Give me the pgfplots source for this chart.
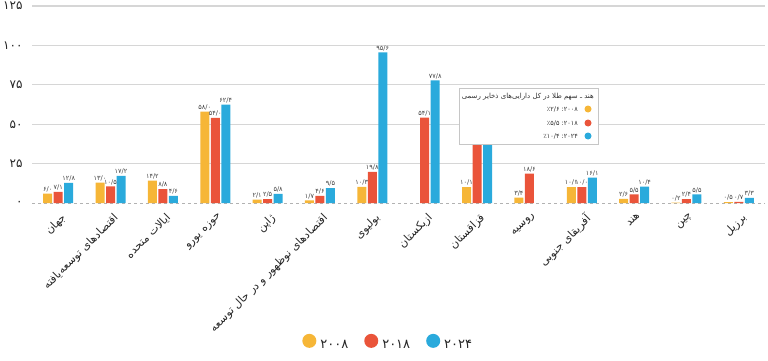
\documentclass[border=0pt]{standalone}
\usepackage{pgfplots}
\pgfplotsset{compat=1.18}
\usepackage{pgfplotstable}
\usepackage{fontspec}
\setmainfont{DejaVu Sans}
\newfontfamily\arabicfont[Script=Arabic]{DejaVu Sans}
\newfontfamily\numfont{DejaVu Sans}
\TeXXeTstate=1
\definecolor{cY}{HTML}{F6B637}
\definecolor{cR}{HTML}{EA543A}
\definecolor{cB}{HTML}{2AAADC}
\definecolor{gridc}{HTML}{D6D6D6}

\pgfplotstableread{
x y lab
0 6.0 ۶/۰
1 13.0 ۱۳/۰
2 14.2 ۱۴/۲
3 58.0 ۵۸/۰
4 2.1 ۲/۱
5 1.7 ۱/۷
6 10.3 ۱۰/۳
8 10.1 ۱۰/۱
9 3.4 ۳/۴
10 10.1 ۱۰/۱
11 2.6 ۲/۶
12 0.2 ۰/۲
13 0.5 ۰/۵
}\tA
\pgfplotstableread{
x y lab
0 7.1 ۷/۱
1 10.5 ۱۰/۵
2 8.8 ۸/۸
3 54.0 ۵۴/۰
4 2.5 ۲/۵
5 4.6 ۴/۶
6 19.8 ۱۹/۸
7 54.1 ۵۴/۱
8 55.3 ۵۵/۳
9 18.6 ۱۸/۶
10 10.0 ۱۰/۰
11 5.5 ۵/۵
12 2.4 ۲/۴
13 0.7 ۰/۷
}\tB
\pgfplotstableread{
x y lab
0 12.8 ۱۲/۸
1 17.2 ۱۷/۲
2 4.6 ۴/۶
3 62.4 ۶۲/۴
4 5.8 ۵/۸
5 9.5 ۹/۵
6 95.6 ۹۵/۶
7 77.8 ۷۷/۸
8 57.9 ۵۷/۹
10 16.1 ۱۶/۱
11 10.4 ۱۰/۴
12 5.5 ۵/۵
13 3.3 ۳/۳
}\tC

\begin{document}
\begin{tikzpicture}
\useasboundingbox (0,0) rectangle (768pt,360pt);
\begin{axis}[
  at={(32pt,157pt)}, anchor=south west,
  scale only axis, width=733pt, height=197pt,
  xmin=-0.5, xmax=13.5, ymin=0, ymax=125,
  axis line style={draw=none},
  ybar=1.5pt, bar width=9pt,
  xtick={0,...,13}, major tick length=0pt,
  xticklabels={
    {\beginR جهان\endR},
    {\beginR اقتصادهای توسعه‌یافته\endR},
    {\beginR ایالات متحده\endR},
    {\beginR حوزه یورو\endR},
    {\beginR ژاپن\endR},
    {\beginR اقتصادهای نوظهور و در حال توسعه\endR},
    {\beginR بولیوی\endR},
    {\beginR ازبکستان\endR},
    {\beginR قزاقستان\endR},
    {\beginR روسیه\endR},
    {\beginR آفریقای جنوبی\endR},
    {\beginR هند\endR},
    {\beginR چین\endR},
    {\beginR برزیل\endR}},
  xticklabel style={rotate=45, anchor=north east, font=\arabicfont\fontsize{11}{13}\selectfont, text=black!85, inner sep=1pt, yshift=-7pt, xshift=-4pt},
  ytick={25,50,75,100,125},
  yticklabels={۲۵,۵۰,۷۵,۱۰۰,۱۲۵},
  extra y ticks={0}, extra y tick labels={۰},
  extra y tick style={grid style={dashed, draw=gray!60, line width=0.8pt}},
  yticklabel style={font=\numfont\fontsize{12}{14}\selectfont, text=black!85, xshift=-6pt},
  ymajorgrids, grid style={draw=gridc, line width=1.1pt},
  point meta=explicit symbolic,
  nodes near coords={\pgfplotspointmeta},
  every node near coord/.append style={font=\numfont\fontsize{6.5}{7}\selectfont, text=black!75, inner sep=1.5pt},
  legend image code/.code={\fill[#1] (0pt,4.5pt) circle (7pt);},
  legend style={draw=none, legend columns=-1, at={(0.486,-0.711)}, anchor=center,
    font=\numfont\fontsize{13}{15}\selectfont, text=black!85,
    /tikz/every odd column/.append style={column sep=2pt},
    /tikz/every even column/.append style={column sep=14pt}},
]
\addplot[fill=cY, draw=none] table[x=x, y=y, meta=lab] {\tA};
\addplot[fill=cR, draw=none] table[x=x, y=y, meta=lab] {\tB};
\addplot[fill=cB, draw=none] table[x=x, y=y, meta=lab] {\tC};
\legend{۲۰۰۸,۲۰۱۸,۲۰۲۴}
\end{axis}
\draw[fill=white, draw=gray!45, line width=0.8pt] (459pt,216pt) rectangle (598pt,272pt);
\node[anchor=east, font=\arabicfont\fontsize{7}{8}\selectfont, text=black!80, inner sep=0pt] at (594pt,263pt) {\beginR هند ـ سهم طلا در کل دارایی‌های ذخایر رسمی\endR};
\fill[cY] (588pt,251pt) circle (3.5pt);
\fill[cR] (588pt,237pt) circle (3.5pt);
\fill[cB] (588pt,224pt) circle (3.5pt);
\node[anchor=east, font=\numfont\fontsize{6.5}{8}\selectfont, text=black!80, inner sep=0pt] at (578pt,251pt) {٪۲/۶ :۲۰۰۸};
\node[anchor=east, font=\numfont\fontsize{6.5}{8}\selectfont, text=black!80, inner sep=0pt] at (578pt,237pt) {٪۵/۵ :۲۰۱۸};
\node[anchor=east, font=\numfont\fontsize{6.5}{8}\selectfont, text=black!80, inner sep=0pt] at (578pt,224pt) {٪۱۰/۴ :۲۰۲۴};
\end{tikzpicture}
\end{document}
